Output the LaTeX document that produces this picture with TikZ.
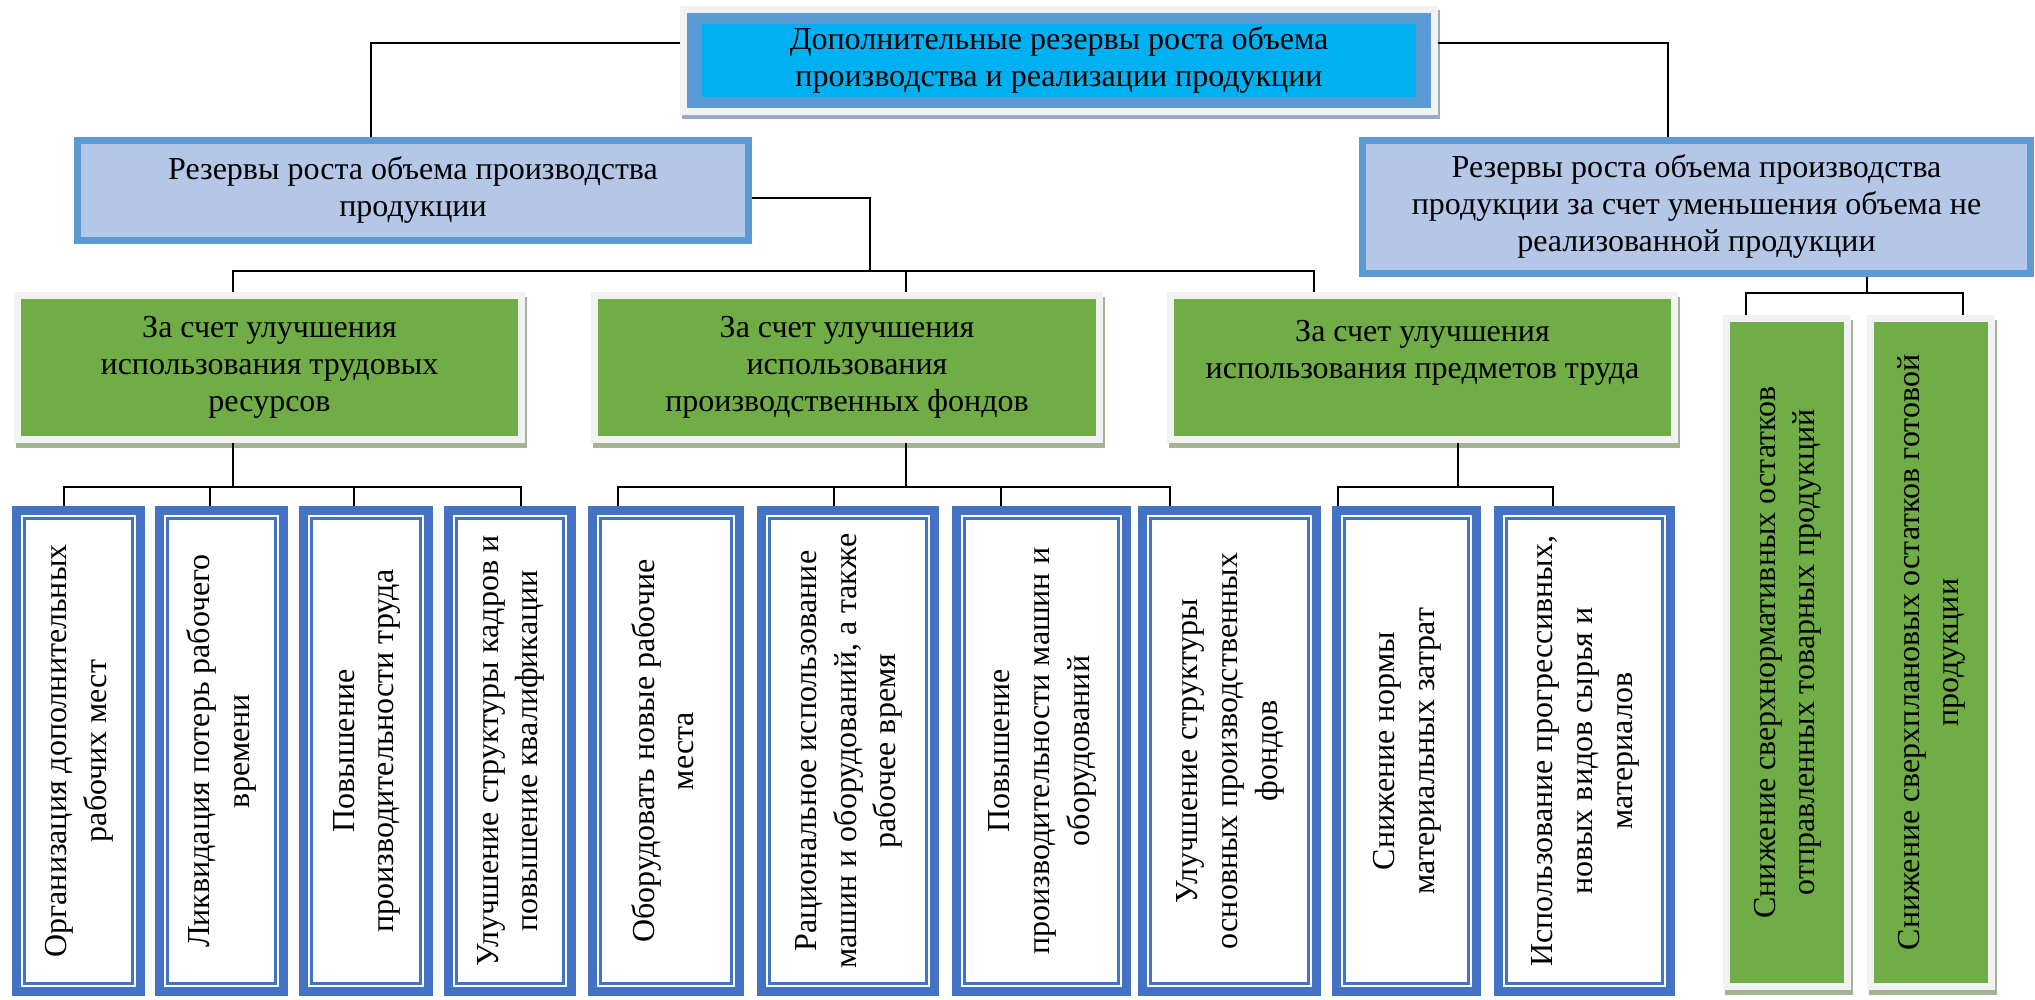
\documentclass[tikz,border=0pt]{standalone}
\usepackage{fontspec}
\setmainfont{Liberation Serif}
\usepackage{graphicx}
\usetikzlibrary{shadows}
\definecolor{cyanfill}{HTML}{00B0F0}
\definecolor{lvblue}{HTML}{5B9BD5}
\definecolor{lvfill}{HTML}{B4C7E7}
\definecolor{grn}{HTML}{70AD47}
\definecolor{frm}{HTML}{F2F2F2}
\definecolor{shgrn}{HTML}{A3B394}
\definecolor{shblu}{HTML}{98AAC6}
\definecolor{bb}{HTML}{4472C4}
\renewcommand{\arraystretch}{1.08}
\newcommand{\vtxt}[1]{\rotatebox{90}{\begin{tabular}{@{}c@{}}#1\end{tabular}}}
\tikzstyle{txt}=[font=\fontsize{32}{37}\selectfont, align=center, inner sep=0pt]
\tikzstyle{cn}=[draw=black, line width=2.2pt]
\tikzstyle{topbox}=[txt, draw=frm, line width=7pt, fill=lvblue,
  general shadow={draw=shblu, fill=shblu, line width=7pt, shadow xshift=2pt, shadow yshift=-4pt},
  path picture={\fill[cyanfill] ([shift={(18.5pt,-14.5pt)}]path picture bounding box.north west) rectangle ([shift={(-18.5pt,14.5pt)}]path picture bounding box.south east);}]
\tikzstyle{lv}=[txt, draw=lvblue, line width=7pt, fill=lvfill]
\tikzstyle{gb}=[txt, draw=frm, line width=7pt, fill=grn,
  general shadow={draw=shgrn, fill=shgrn, line width=7pt, shadow xshift=2pt, shadow yshift=-5pt}]
\tikzstyle{lf}=[txt, draw=bb, line width=9pt, fill=white, minimum height=481pt,
  path picture={\draw[bb, line width=3pt] ([shift={(8pt,-8pt)}]path picture bounding box.north west) rectangle ([shift={(-8pt,8pt)}]path picture bounding box.south east);}]

\begin{document}
\begin{tikzpicture}[x=1pt, y=-1pt]
\useasboundingbox (0,0) rectangle (2035,1000);
\fill[white] (0,0) rectangle (2035,1000);

\node[topbox, minimum width=751pt, minimum height=102pt] (top) at (1059,60.5)
  {Дополнительные резервы роста объема\\производства и реализации продукции};

\node[lv, minimum width=671pt, minimum height=100pt] (l2l) at (413,190.5)
  {Резервы роста объема производства\\продукции};
\node[lv, minimum width=668pt, minimum height=133pt] (l2r) at (1696.5,207)
  {Резервы роста объема производства\\продукции за счет уменьшения объема не\\реализованной продукции};

\node[gb, minimum width=504pt, minimum height=144pt] (g1) at (269.5,367.5)
  {За счет улучшения\\использования трудовых\\ресурсов};
\node[gb, minimum width=505pt, minimum height=144pt] (g2) at (847,367.5)
  {За счет улучшения\\использования\\производственных фондов};
\node[gb, minimum width=504pt, minimum height=144pt] (g3) at (1422.5,367.5)
  {За счет улучшения\\использования предметов труда\\~};
\node[gb, minimum width=121pt, minimum height=668pt] (g4) at (1787,652.5)
  {\vtxt{Снижение сверхнормативных остатков\\отправленных товарных продукций}};
\node[gb, minimum width=121pt, minimum height=668pt] (g5) at (1931,652.5)
  {\vtxt{Снижение сверхплановых остатков готовой\\продукции}};

\node[lf, minimum width=124pt] (b1) at (78.5,751) {\vtxt{Организация дополнительных\\рабочих мест}};
\node[lf, minimum width=124pt] (b2) at (221.5,751) {\vtxt{Ликвидация потерь рабочего\\времени}};
\node[lf, minimum width=125pt] (b3) at (366,751) {\vtxt{Повышение\\производительности труда}};
\node[lf, minimum width=123pt] (b4) at (510,751) {\vtxt{Улучшение структуры кадров и\\повышение квалификации}};
\node[lf, minimum width=147pt] (b5) at (666,751) {\vtxt{Оборудовать новые рабочие\\места}};
\node[lf, minimum width=173pt] (b6) at (848,751) {\vtxt{Рациональное использование\\машин и оборудований, а также\\рабочее время}};
\node[lf, minimum width=170pt] (b7) at (1041.5,751) {\vtxt{Повышение\\производительности машин и\\оборудований}};
\node[lf, minimum width=174pt] (b8) at (1229.5,751) {\vtxt{Улучшение структуры\\основных производственных\\фондов}};
\node[lf, minimum width=140pt] (b9) at (1406.5,751) {\vtxt{Снижение нормы\\материальных затрат}};
\node[lf, minimum width=172pt] (b10) at (1584.5,751) {\vtxt{Использование прогрессивных,\\новых видов сырья и\\материалов}};

\coordinate (j1) at (870,271);
\coordinate (j2) at (233,487);
\coordinate (j3) at (906,487);
\coordinate (j4) at (1458,487);
\coordinate (j5) at (1867,293);

\draw[cn] ([yshift=17.5pt]top.west) -| ([xshift=-42pt]l2l.north);
\draw[cn] ([yshift=17.5pt]top.east) -| ([xshift=-28.5pt]l2r.north);

\draw[cn] ([yshift=-7.5pt]l2l.east) -| (j1);
\draw[cn] ([xshift=-36.5pt]g1.north) |- (j1) -| ([xshift=-108.5pt]g3.north);
\draw[cn] ([xshift=59pt]g2.north) -- ([xshift=59pt]g2.north |- j1);

\draw[cn] ([xshift=-36.5pt]g1.south) -- (j2);
\draw[cn] ([xshift=-14.5pt]b1.north) |- (j2) -| ([xshift=11pt]b4.north);
\draw[cn] ([xshift=-11.5pt]b2.north) -- ([xshift=-11.5pt]b2.north |- j2);
\draw[cn] ([xshift=-12pt]b3.north) -- ([xshift=-12pt]b3.north |- j2);

\draw[cn] ([xshift=59pt]g2.south) -- (j3);
\draw[cn] ([xshift=-48pt]b5.north) |- (j3) -| ([xshift=-59.5pt]b8.north);
\draw[cn] ([xshift=-14pt]b6.north) -- ([xshift=-14pt]b6.north |- j3);
\draw[cn] ([xshift=-40.5pt]b7.north) -- ([xshift=-40.5pt]b7.north |- j3);

\draw[cn] ([xshift=35.5pt]g3.south) -- (j4);
\draw[cn] ([xshift=-68.5pt]b9.north) |- (j4) -| ([xshift=-31.5pt]b10.north);

\draw[cn] ([xshift=170.5pt]l2r.south) -- (j5);
\draw[cn] ([xshift=-41pt]g4.north) |- (j5) -| ([xshift=32pt]g5.north);

\end{tikzpicture}
\end{document}
